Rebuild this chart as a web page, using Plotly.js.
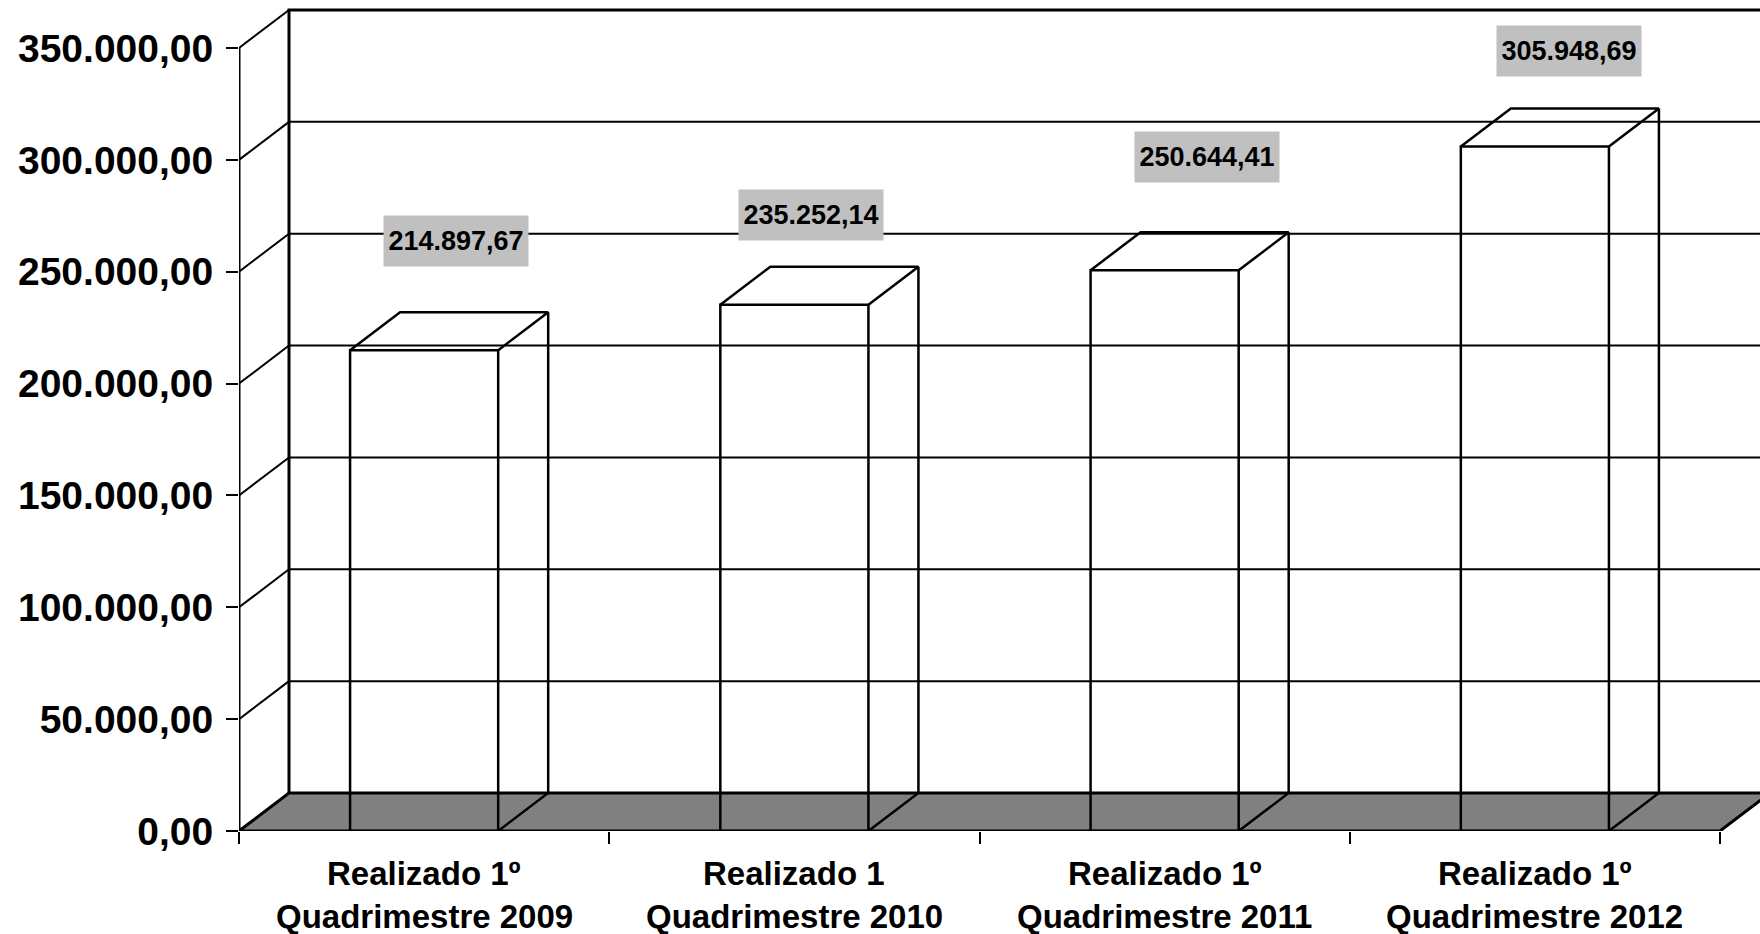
<!DOCTYPE html>
<html>
<head>
<meta charset="utf-8">
<script src="https://cdn.plot.ly/plotly-3.0.1.min.js"></script>
<style>
  html, body { margin: 0; padding: 0; background: #fff; }
  #grafico { width: 1760px; height: 934px; }
</style>
</head>
<body>
<div id="grafico"></div>
<script>
// ─────────────────────────────
// DADOS
// ─────────────────────────────
const categorias = [
  'Realizado 1º<br>Quadrimestre 2009',
  'Realizado 1<br>Quadrimestre 2010',
  'Realizado 1º<br>Quadrimestre 2011',
  'Realizado 1º<br>Quadrimestre 2012'
];
const valores = [214897.67, 235252.14, 250644.41, 305948.69];
const ticksY = [0, 50000, 100000, 150000, 200000, 250000, 300000, 350000];

// ─────────────────────────────
// GEOMETRIA DO EFEITO 3D
// ─────────────────────────────
const PX_CAT = 370.25;               // pixels por categoria
const PX_Y = 783 / 350000;           // pixels por unidade do eixo Y
const DX = 50 / PX_CAT;              // profundidade em unidades de X
const DY = 38 / PX_Y;                // profundidade em unidades de Y
const LARG = 0.4;                    // largura da barra
const X0 = -0.5;
const X1 = categorias.length - 0.5;
const XMAX = X0 + 1521 / PX_CAT;
const YMAX = 831 / PX_Y;
const TOPO = ticksY[ticksY.length - 1];

const FONTE = 'Liberation Sans, Arial, sans-serif';

function fmt(v) {
  const [i, d] = v.toFixed(2).split('.');
  return i.replace(/\B(?=(\d{3})+(?!\d))/g, '.') + ',' + d;
}

function segmentos(lista) {
  const x = [], y = [];
  lista.forEach(s => {
    s.forEach(p => { x.push(p[0]); y.push(p[1]); });
    x.push(null); y.push(null);
  });
  return { x, y };
}

// ───────── paredes ─────────
const grade = segmentos(ticksY.filter(v => v > 0 && v < TOPO).map(v => [[X0 + DX, v + DY], [XMAX + 1, v + DY]]));
const diagonais = segmentos(ticksY.filter(v => v > 0).map(v => [[X0, v], [X0 + DX, v + DY]]));
const bordaTopo = segmentos([
  [[X0 + DX, DY], [X0 + DX, TOPO + DY], [XMAX + 1, TOPO + DY]],
  [[X0, 0], [X0, TOPO]]
]);

// ───────── barras (faces de cima e lateral) ─────────
const caixas = segmentos(valores.flatMap((v, i) => {
  const a = i - LARG / 2, b = i + LARG / 2;
  return [
    [[a, v], [a + DX, v + DY], [b + DX, v + DY], [b, v]],
    [[b, 0], [b + DX, DY], [b + DX, v + DY]]
  ];
}));

const linha = (w) => ({ color: '#000', width: w });

const traces = [
  { x: grade.x, y: grade.y, mode: 'lines', line: linha(2), hoverinfo: 'skip' },
  { x: diagonais.x, y: diagonais.y, mode: 'lines', line: linha(2), hoverinfo: 'skip' },
  { x: bordaTopo.x, y: bordaTopo.y, mode: 'lines', line: linha(3), hoverinfo: 'skip' },
  {
    type: 'bar',
    x: categorias.map((c, i) => i),
    y: valores,
    width: LARG,
    marker: { color: 'rgba(0,0,0,0)', line: linha(2.5) },
    hoverinfo: 'skip'
  },
  { x: caixas.x, y: caixas.y, mode: 'lines', line: linha(2.5), hoverinfo: 'skip' }
];

// ───────── piso ─────────
const piso = {
  type: 'path',
  xref: 'x', yref: 'y',
  path: `M ${X0},0 L ${X1},0 L ${X1 + DX},${DY} L ${X0 + DX},${DY} Z`,
  fillcolor: '#808080',
  line: linha(3),
  layer: 'below'
};

// ───────── rótulos ─────────
const deslocX = [32, 17, 42, 34];
const deslocY = [109, 90, 113, 96];

const rotulos = valores.map((v, i) => ({
  x: i, y: v, xref: 'x', yref: 'y',
  xshift: deslocX[i], yshift: deslocY[i],
  text: fmt(v),
  showarrow: false,
  bgcolor: '#c0c0c0',
  width: 144, height: 50, borderpad: 0,
  font: { family: FONTE, size: 27, weight: 'bold', color: '#000' }
}));

const rotulosCat = categorias.flatMap((c, i) => c.split('<br>').map((t, k) => ({
  x: i, y: 0, xref: 'x', yref: 'y',
  yshift: k === 0 ? -42 : -85,
  text: t,
  showarrow: false,
  yanchor: 'middle',
  font: { family: FONTE, size: 33, weight: 'bold', color: '#000' }
})));

const layout = {
  width: 1760,
  height: 934,
  margin: { l: 239, r: 0, t: 0, b: 103, pad: 0 },
  paper_bgcolor: '#fff',
  plot_bgcolor: '#fff',
  showlegend: false,
  separators: ',.',
  xaxis: {
    range: [X0, XMAX],
    tickvals: categorias.map((c, i) => i - 0.5).concat([X1]),
    showticklabels: false,
    ticks: 'outside', ticklen: 12, tickwidth: 2, tickcolor: '#000',
    showgrid: false, zeroline: false, showline: false, fixedrange: true
  },
  yaxis: {
    range: [0, YMAX],
    tickvals: ticksY,
    tickformat: ',.2f',
    ticks: 'outside', ticklen: 12, tickwidth: 2, tickcolor: '#000',
    ticklabelstandoff: 5,
    tickfont: { family: FONTE, size: 39, weight: 'bold', color: '#000' },
    showgrid: false, zeroline: false, showline: false, fixedrange: true
  },
  shapes: [piso],
  annotations: rotulos.concat(rotulosCat)
};

Plotly.newPlot('grafico', traces, layout, { displayModeBar: false, staticPlot: true });
</script>
</body>
</html>
